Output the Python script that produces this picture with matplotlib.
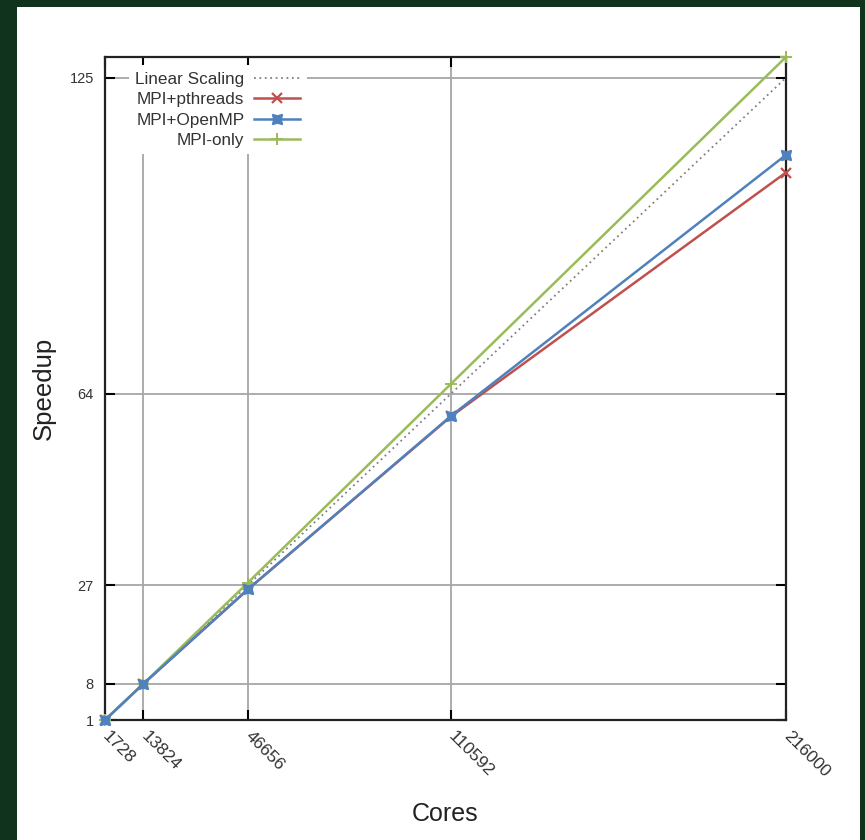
import matplotlib
matplotlib.use("Agg")
import matplotlib.pyplot as plt

plt.rcParams['font.family'] = ['Liberation Sans', 'DejaVu Sans']

cores = [1728, 13824, 46656, 110592, 216000]
linear = [1, 8, 27, 64, 125]
pthreads = [1, 8, 26.2, 59.6, 106.7]
openmp = [1, 8, 26.2, 59.7, 110.1]
mpi_only = [1, 8, 27.5, 65.9, 129]
yticks = [1, 8, 27, 64, 125]

BG = "#0f331c"
W, H = 865, 840

fig = plt.figure(figsize=(W / 100, H / 100), dpi=100, facecolor=BG)

# white panel behind the chart
panel = fig.add_axes([17 / W, 0, (860 - 17) / W, (H - 7) / H], zorder=-1)
panel.set_facecolor("white")
panel.set_xticks([])
panel.set_yticks([])
for s in panel.spines.values():
    s.set_visible(False)

ax = fig.add_axes([105 / W, (H - 720) / H, (786 - 105) / W, (720 - 57) / H])
ax.set_xlim(cores[0], cores[-1])
ax.set_ylim(1, 129)

ax.plot(cores, linear, color="#808080", ls=(0, (1, 2)), lw=1.3,
        label="Linear Scaling", zorder=3)
ax.plot(cores, pthreads, color="#c0504d", lw=1.8, marker="x", ms=7, mew=1.6,
        label="MPI+pthreads", zorder=3, clip_on=False)
ax.plot(cores, openmp, color="#4f81bd", lw=1.8, marker=(4, 1, 45), ms=10,
        mew=1.2, label="MPI+OpenMP", zorder=4, clip_on=False)
ax.plot(cores, mpi_only, color="#9bbb59", lw=1.8, marker="+", ms=9, mew=1.4,
        label="MPI-only", zorder=3, clip_on=False)

ax.set_xticks(cores)
ax.set_xticklabels([str(c) for c in cores], rotation=-45, ha="left",
                   va="center", rotation_mode="anchor", color="#333333",
                   fontsize=12.5)
ax.set_yticks(yticks)
ax.set_yticklabels([str(v) for v in yticks], color="#333333", fontsize=10.5)
ax.tick_params(direction="in", length=7, width=1.5, top=True, right=True)
ax.tick_params(axis="y", pad=8)
ax.tick_params(axis="x", pad=10)
ax.grid(True, color="#a6a6a6", lw=1.3)
ax.set_axisbelow(True)
for s in ax.spines.values():
    s.set_linewidth(1.6)
    s.set_color("#222222")

ax.set_xlabel("Cores", fontsize=18, color="#222222", labelpad=16)
ax.set_ylabel("Speedup", fontsize=18.5, color="#222222", labelpad=10)

leg = ax.legend(loc="upper left", bbox_to_anchor=(0.027, 0.995),
                markerfirst=False, fontsize=12.3, handlelength=2.7,
                handletextpad=0.55, labelspacing=0.3, borderpad=0.4,
                borderaxespad=0.3, frameon=True, fancybox=False)
leg.get_frame().set_edgecolor("none")
leg.get_frame().set_facecolor("white")
leg.get_frame().set_alpha(1)
for t in leg.get_texts():
    t.set_ha("right")
    t.set_color("#333333")

fig.savefig("out.png", dpi=100, facecolor=BG)
